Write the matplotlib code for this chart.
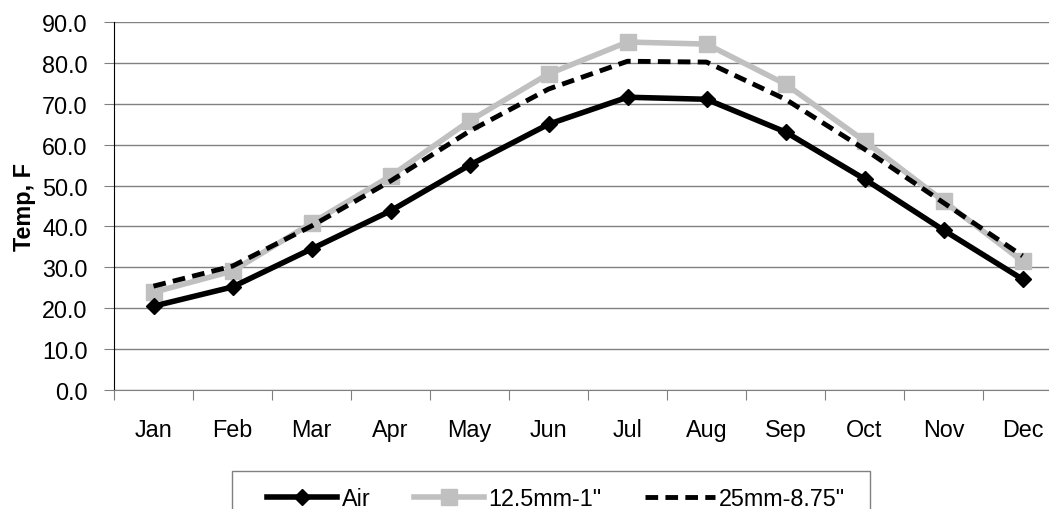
import matplotlib
matplotlib.use("Agg")
import matplotlib.pyplot as plt
from matplotlib.patches import Rectangle
import numpy as np

plt.rcParams["font.family"] = ["Liberation Sans", "DejaVu Sans"]

months = ["Jan", "Feb", "Mar", "Apr", "May", "Jun",
          "Jul", "Aug", "Sep", "Oct", "Nov", "Dec"]
air      = [20.5, 25.2, 34.5, 43.8, 55.0, 65.0, 71.6, 71.1, 63.1, 51.6, 39.1, 27.1]
mm12_5   = [23.9, 29.1, 40.8, 52.3, 65.8, 77.3, 85.1, 84.6, 74.8, 60.9, 46.2, 31.5]
mm25     = [25.4, 30.3, 40.1, 51.1, 63.3, 73.6, 80.4, 80.2, 71.1, 58.9, 45.8, 32.8]
yticks   = np.arange(0, 91, 10)

FS = 16.8
W, H = 1049, 510
fig = plt.figure(figsize=(W / 100, H / 100), dpi=100)
# plot area runs past the right edge like the original
ax = fig.add_axes([114 / W, 1 - 391 / H, 948 / W, 368 / H])

x = np.arange(len(months))
ax.plot(x, air, color="black", lw=4, marker="D", ms=8, label="Air", zorder=4)
ax.plot(x, mm12_5, color="#C0C0C0", lw=4, marker="s", ms=11, label='12.5mm-1"', zorder=3)
ax.plot(x, mm25, color="black", lw=3.5, ls=(0, (2.6, 1.5)), label='25mm-8.75"', zorder=5)

ax.set_xlim(-0.5, 11.5)
ax.set_ylim(0, 90)
ax.set_yticks(yticks)
ax.set_yticklabels([f"{v:.1f}" for v in yticks], fontsize=FS)
ax.set_xticks(np.arange(-0.5, 12, 1))
ax.set_xticklabels([])
ax.set_xticks(x, minor=True)
ax.set_xticklabels(months, minor=True, fontsize=FS)
ax.tick_params(axis="x", which="minor", length=0, pad=20)
ax.tick_params(axis="x", which="major", length=7, direction="out", color="#808080")
ax.tick_params(axis="y", length=7, direction="out", color="#808080", pad=12)
ax.grid(True, axis="y", color="#808080", lw=1)
ax.set_axisbelow(True)
for s in ["top", "right"]:
    ax.spines[s].set_visible(False)
ax.spines["left"].set_color("black")
ax.spines["bottom"].set_color("#808080")
ax.set_ylabel("Temp, F", fontsize=FS, fontweight="bold", labelpad=4)

# legend box (cut off at the bottom edge like the original)
fig.patches.append(Rectangle((232 / W, -0.05), 638 / W, 1 - 472 / H + 0.05,
                             transform=fig.transFigure, fill=False,
                             edgecolor="#808080", lw=1))
leg = fig.legend(loc="upper left", bbox_to_anchor=(267 / W, 1 - 488 / H),
                 ncol=3, fontsize=FS, frameon=False,
                 handlelength=3.0, handletextpad=0.2, borderaxespad=0, borderpad=0,
                 columnspacing=1.85)

fig.savefig("out.png", dpi=100)
